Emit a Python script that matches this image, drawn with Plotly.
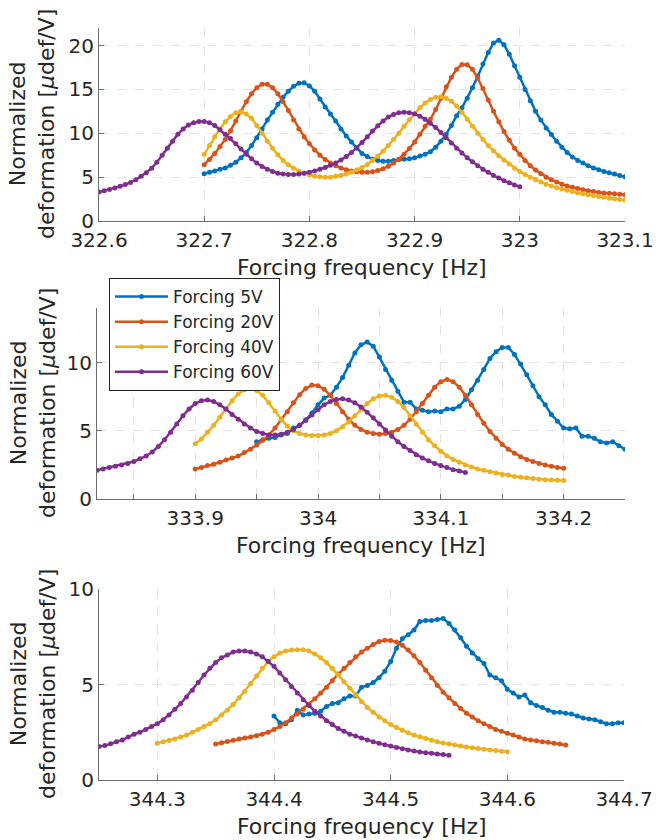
import numpy as np
import plotly.graph_objects as go

STEP = 0.005  # frequency sweep step [Hz]
LABELS = ["Forcing 5V", "Forcing 20V", "Forcing 40V", "Forcing 60V"]
COLORS = ["#0072BD", "#D95319", "#EDB120", "#7E2F8E"]

# ---------------- Panel 1 (around 322.8 Hz) ----------------
P1_START = [322.70, 322.70, 322.70, 322.60]
P1_5V = [5.4, 5.55, 5.7, 5.9, 6.05, 6.35, 6.7, 7.2, 7.8, 8.6,
         9.5, 10.5, 11.5, 12.4, 13.3, 14.1, 14.8, 15.35, 15.7, 15.75,
         15.4, 14.8, 13.9, 13.0, 12.2, 11.4, 10.5, 9.7, 9.0, 8.3,
         7.7, 7.35, 7.05, 6.9, 6.8, 6.8, 6.9, 7.0, 7.05, 7.1,
         7.2, 7.4, 7.6, 7.9, 8.4, 9.1, 9.9, 10.9, 12.0, 12.9,
         14.0, 15.2, 16.5, 17.9, 19.2, 20.3, 20.6, 20.1, 19.0, 17.7,
         16.4, 15.0, 13.7, 12.5, 11.5, 10.6, 9.85, 9.1, 8.4, 7.8,
         7.3, 6.9, 6.6, 6.3, 6.05, 5.85, 5.65, 5.5, 5.35, 5.2,
         5.05]
P1_20V = [6.4, 7.0, 7.7, 8.5, 9.3, 10.3, 11.4, 12.5, 13.6, 14.5,
          15.2, 15.6, 15.6, 15.2, 14.5, 13.6, 12.6, 11.5, 10.5, 9.6,
          8.8, 8.1, 7.5, 7.0, 6.6, 6.3, 6.05, 5.85, 5.7, 5.6,
          5.55, 5.55, 5.6, 5.75, 5.95, 6.25, 6.6, 7.05, 7.6, 8.25,
          9.0, 9.9, 10.8, 11.6, 12.7, 14.0, 15.3, 16.4, 17.3, 17.85,
          17.8, 17.3, 16.3, 15.1, 13.8, 12.5, 11.3, 10.2, 9.2, 8.3,
          7.6, 6.9, 6.3, 5.8, 5.4, 5.0, 4.7, 4.45, 4.2, 4.0,
          3.85, 3.7, 3.55, 3.45, 3.35, 3.25, 3.2, 3.15, 3.1, 3.05,
          3.0]
P1_40V = [7.6, 8.6, 9.6, 10.5, 11.3, 11.9, 12.35, 12.45, 12.2, 11.7,
          10.9, 10.0, 9.1, 8.3, 7.55, 6.9, 6.4, 6.0, 5.7, 5.45,
          5.25, 5.1, 5.05, 5.0, 5.0, 5.1, 5.2, 5.35, 5.55, 5.8,
          6.1, 6.45, 6.9, 7.4, 7.95, 8.6, 9.3, 10.0, 10.8, 11.55,
          12.25, 12.9, 13.45, 13.85, 14.1, 14.15, 14.0, 13.65, 13.1, 12.4,
          11.6, 10.8, 10.0, 9.3, 8.6, 8.0, 7.45, 6.95, 6.5, 6.0,
          5.65, 5.3, 5.0, 4.7, 4.45, 4.2, 4.0, 3.8, 3.65, 3.5,
          3.35, 3.2, 3.1, 3.0, 2.9, 2.8, 2.7, 2.6, 2.55, 2.45,
          2.4]
P1_60V = [3.3, 3.45, 3.6, 3.75, 3.95, 4.15, 4.4, 4.7, 5.1, 5.5,
          6.0, 6.7, 7.5, 8.3, 9.1, 9.9, 10.5, 10.95, 11.2, 11.35,
          11.35, 11.2, 10.9, 10.4, 9.9, 9.4, 8.8, 8.2, 7.6, 7.1,
          6.6, 6.2, 5.9, 5.65, 5.45, 5.35, 5.3, 5.3, 5.35, 5.45,
          5.55, 5.7, 5.9, 6.1, 6.35, 6.6, 6.95, 7.35, 7.8, 8.35,
          8.95, 9.6, 10.25, 10.85, 11.4, 11.85, 12.15, 12.35, 12.4, 12.35,
          12.2, 11.95, 11.6, 11.15, 10.65, 10.1, 9.5, 8.9, 8.3, 7.75,
          7.2, 6.75, 6.3, 5.9, 5.55, 5.2, 4.9, 4.6, 4.35, 4.1,
          3.9]

# ---------------- Panel 2 (around 334 Hz) ----------------
P2_START = [333.95, 333.90, 333.90, 333.82]
P2_5V = [4.2, 4.35, 4.45, 4.5, 4.7, 4.8, 5.2, 5.4, 5.8, 6.3,
         6.9, 7.4, 7.6, 8.2, 8.9, 9.8, 10.7, 11.3, 11.5, 11.2,
         10.4, 9.5, 8.7, 7.9, 7.1, 7.1, 6.6, 6.5, 6.4, 6.45,
         6.4, 6.6, 6.6, 6.8, 7.3, 8.0, 8.7, 9.5, 10.3, 10.8,
         11.1, 11.1, 10.6, 9.9, 9.1, 8.3, 7.5, 6.9, 6.2, 5.7,
         5.2, 5.15, 5.2, 4.6, 4.6, 4.45, 4.2, 4.1, 4.2, 3.9,
         3.65]
P2_20V = [2.2, 2.3, 2.45, 2.55, 2.7, 2.85, 3.0, 3.15, 3.4, 3.65,
          3.95, 4.3, 4.7, 5.2, 5.8, 6.4, 7.05, 7.65, 8.1, 8.35,
          8.3, 8.05, 7.6, 7.0, 6.4, 5.85, 5.4, 5.1, 4.9, 4.8,
          4.75, 4.8, 4.9, 5.1, 5.4, 5.85, 6.4, 7.0, 7.6, 8.2,
          8.6, 8.75, 8.6, 8.2, 7.6, 6.9, 6.2, 5.55, 4.95, 4.45,
          4.0, 3.65, 3.35, 3.1, 2.9, 2.75, 2.6, 2.5, 2.4, 2.3,
          2.25]
P2_40V = [4.05, 4.4, 4.9, 5.4, 6.0, 6.6, 7.2, 7.7, 8.0, 8.1,
          7.95, 7.6, 7.05, 6.45, 5.85, 5.35, 5.0, 4.8, 4.7, 4.65,
          4.65, 4.7, 4.8, 5.0, 5.3, 5.65, 6.1, 6.55, 7.0, 7.35,
          7.55, 7.6, 7.45, 7.15, 6.7, 6.1, 5.5, 4.9, 4.35, 3.9,
          3.5, 3.15, 2.9, 2.7, 2.5, 2.35, 2.2, 2.1, 2.0, 1.9,
          1.8, 1.75, 1.65, 1.6, 1.55, 1.5, 1.45, 1.42, 1.4, 1.37,
          1.35]
P2_60V = [2.1, 2.2, 2.3, 2.4, 2.5, 2.6, 2.75, 2.95, 3.15, 3.45,
          3.85, 4.35, 4.9, 5.5, 6.1, 6.6, 7.0, 7.2, 7.25, 7.15,
          6.9, 6.6, 6.2, 5.85, 5.5, 5.2, 4.95, 4.8, 4.7, 4.7,
          4.75, 4.9, 5.1, 5.4, 5.75, 6.15, 6.55, 6.9, 7.15, 7.3,
          7.35, 7.25, 7.05, 6.75, 6.35, 5.95, 5.5, 5.05, 4.6, 4.2,
          3.85, 3.55, 3.25, 3.0, 2.8, 2.6, 2.45, 2.3, 2.15, 2.05,
          1.95]

# ---------------- Panel 3 (around 344.45 Hz) ----------------
P3_START = [344.40, 344.35, 344.30, 344.25]
P3_5V = [3.35, 3.0, 2.95, 3.15, 3.65, 3.4, 3.45, 3.5, 3.6, 3.85,
         4.0, 4.05, 4.25, 4.4, 4.4, 4.85, 4.95, 5.1, 5.35, 5.7,
         6.2, 6.9, 7.4, 7.6, 7.85, 8.3, 8.35, 8.35, 8.4, 8.45,
         8.2, 7.85, 7.45, 7.0, 6.65, 6.35, 6.1, 5.5, 5.35, 5.2,
         4.75, 4.55, 4.35, 4.45, 4.05, 3.9, 3.8, 3.65, 3.55, 3.55,
         3.5, 3.45, 3.35, 3.25, 3.2, 3.15, 3.05, 2.95, 2.95, 3.0,
         3.0]
P3_20V = [1.88, 1.95, 2.02, 2.08, 2.15, 2.2, 2.25, 2.32, 2.4, 2.5,
          2.65, 2.8, 3.0, 3.25, 3.45, 3.7, 3.95, 4.25, 4.55, 4.85,
          5.2, 5.55, 5.85, 6.15, 6.45, 6.7, 6.9, 7.1, 7.25, 7.32,
          7.3, 7.22, 7.05, 6.8, 6.5, 6.15, 5.75, 5.35, 4.95, 4.6,
          4.3, 4.0, 3.75, 3.5, 3.3, 3.1, 2.95, 2.8, 2.65, 2.55,
          2.45, 2.35, 2.25, 2.15, 2.1, 2.05, 2.0, 1.97, 1.93, 1.88,
          1.83]
P3_40V = [1.92, 2.0, 2.07, 2.15, 2.25, 2.35, 2.5, 2.65, 2.8, 2.95,
          3.15, 3.4, 3.65, 3.95, 4.3, 4.65, 5.05, 5.45, 5.85, 6.2,
          6.45, 6.65, 6.75, 6.8, 6.82, 6.82, 6.75, 6.6, 6.4, 6.15,
          5.85, 5.5, 5.15, 4.8, 4.45, 4.1, 3.8, 3.55, 3.3, 3.1,
          2.9, 2.75, 2.6, 2.47, 2.36, 2.26, 2.17, 2.08, 2.0, 1.94,
          1.88, 1.83, 1.78, 1.73, 1.69, 1.65, 1.61, 1.57, 1.54, 1.51,
          1.48]
P3_60V = [1.75, 1.8, 1.9, 2.0, 2.1, 2.25, 2.4, 2.5, 2.65, 2.8,
          2.95, 3.15, 3.4, 3.7, 4.0, 4.35, 4.7, 5.1, 5.5, 5.85,
          6.15, 6.4, 6.55, 6.7, 6.75, 6.75, 6.7, 6.6, 6.45, 6.2,
          5.95, 5.6, 5.25, 4.9, 4.55, 4.2, 3.9, 3.6, 3.35, 3.1,
          2.9, 2.7, 2.55, 2.4, 2.3, 2.2, 2.1, 2.0, 1.92, 1.85,
          1.78, 1.7, 1.63, 1.57, 1.52, 1.47, 1.43, 1.4, 1.36, 1.33,
          1.3]

# Axis ranges and ticks
P1_XRANGE = [322.6, 323.1]
P1_XTICKS = [322.6, 322.7, 322.8, 322.9, 323.0, 323.1]
P1_XTEXT = ["322.6", "322.7", "322.8", "322.9", "323", "323.1"]
P1_YRANGE = [0, 22]
P1_YTICKS = [0, 5, 10, 15, 20]

P2_XRANGE = [333.82, 334.25]
P2_XTICKS = [333.85, 333.9, 333.95, 334.0, 334.05, 334.1, 334.15, 334.2, 334.25]
P2_XTEXT = ["", "333.9", "", "334", "", "334.1", "", "334.2", ""]
P2_YRANGE = [0, 14]
P2_YTICKS = [0, 5, 10]

P3_XRANGE = [344.25, 344.7]
P3_XTICKS = [344.3, 344.4, 344.5, 344.6, 344.7]
P3_XTEXT = ["344.3", "344.4", "344.5", "344.6", "344.7"]
P3_YRANGE = [0, 10]
P3_YTICKS = [0, 5, 10]

XTITLE = "Forcing frequency [Hz]"
YTITLE = "Normalized<br>deformation [<i>μ</i>def/V]"

W, H = 656, 840
FONT = "DejaVu Sans"
TXT = "#262626"
AXC = "#6e6e6e"

fig = go.Figure()
panels = [
    (P1_START, [P1_5V, P1_20V, P1_40V, P1_60V], "x", "y"),
    (P2_START, [P2_5V, P2_20V, P2_40V, P2_60V], "x2", "y2"),
    (P3_START, [P3_5V, P3_20V, P3_40V, P3_60V], "x3", "y3"),
]
for pi, (starts, series, xa, ya) in enumerate(panels):
    for k, (s, vals) in enumerate(zip(starts, series)):
        x = np.round(s + STEP * np.arange(len(vals)), 3)
        fig.add_trace(go.Scatter(
            x=x, y=vals, mode="lines+markers",
            line=dict(color=COLORS[k], width=2.5),
            marker=dict(size=5, color=COLORS[k]),
            name=LABELS[k],
            showlegend=(pi == 1), xaxis=xa, yaxis=ya))


def common(standoff):
    return dict(showline=True, linecolor=AXC, linewidth=1, ticks="inside", ticklen=5,
                tickcolor=AXC, showgrid=True, gridcolor="#e2e2e2", griddash="dash",
                zeroline=False, automargin=False, ticklabelstandoff=standoff,
                tickfont=dict(family=FONT, size=20, color=TXT))


def xax(rng, tv, tt, dom, anchor):
    d = common(1)
    d.update(range=rng, tickvals=tv, ticktext=tt, domain=dom, anchor=anchor)
    return d


def yax(rng, tv, dom, anchor):
    d = common(0)
    d.update(range=rng, tickvals=tv, domain=dom, anchor=anchor)
    return d


doms_x = [[99 / W, 625 / W], [97 / W, 625 / W], [99 / W, 624 / W]]
doms_y = [[1 - 221 / H, 1 - 28 / H], [1 - 499 / H, 1 - 308 / H], [1 - 780 / H, 1 - 589 / H]]

fig.update_layout(
    template="none",
    width=W, height=H, margin=dict(l=0, r=0, t=0, b=0, pad=0, autoexpand=False),
    paper_bgcolor="white", plot_bgcolor="white",
    font=dict(family=FONT, color=TXT),
    xaxis=xax(P1_XRANGE, P1_XTICKS, P1_XTEXT, doms_x[0], "y"),
    yaxis=yax(P1_YRANGE, P1_YTICKS, doms_y[0], "x"),
    xaxis2=xax(P2_XRANGE, P2_XTICKS, P2_XTEXT, doms_x[1], "y2"),
    yaxis2=yax(P2_YRANGE, P2_YTICKS, doms_y[1], "x2"),
    xaxis3=xax(P3_XRANGE, P3_XTICKS, P3_XTEXT, doms_x[2], "y3"),
    yaxis3=yax(P3_YRANGE, P3_YTICKS, doms_y[2], "x3"),
    legend=dict(x=109 / W, y=1 - 278 / H, xanchor="left", yanchor="top",
                bgcolor="white", bordercolor="#262626", borderwidth=1,
                font=dict(family=FONT, size=17, color=TXT), tracegroupgap=0,
                itemwidth=53),
    showlegend=True,
)

annotations = []
for i in range(3):
    xd, yd = doms_x[i], doms_y[i]
    annotations.append(dict(
        text=XTITLE, xref="paper", yref="paper",
        x=(xd[0] + xd[1]) / 2, y=yd[0] - 46 / H,
        xanchor="center", yanchor="middle", showarrow=False,
        font=dict(family=FONT, size=22, color=TXT)))
    annotations.append(dict(
        text=YTITLE, xref="paper", yref="paper",
        x=32.5 / W, y=(yd[0] + yd[1]) / 2, textangle=-90,
        xanchor="center", yanchor="middle", showarrow=False,
        font=dict(family=FONT, size=22, color=TXT)))
fig.update_layout(annotations=annotations)

fig.write_html("out.html", config={"responsive": False, "displayModeBar": False},
               post_script="document.body.style.margin='0';document.body.style.padding='0';")
